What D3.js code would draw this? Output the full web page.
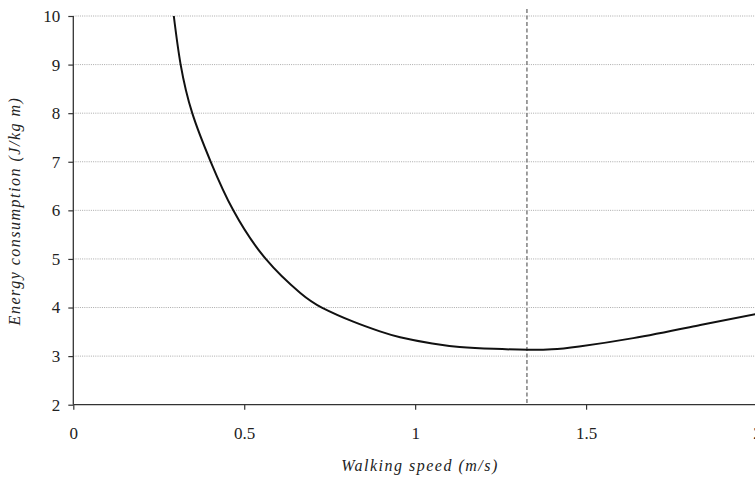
<!DOCTYPE html>
<html><head><meta charset="utf-8">
<script src="https://cdn.jsdelivr.net/npm/d3@7"></script>
<style>body{margin:0;background:#fff}svg{display:block}
text{font-family:"Liberation Serif","Times New Roman",Times,serif}</style>
</head><body>
<svg id="c" width="755" height="479"></svg>
<script>
const speed =  [0.294,0.314,0.348,0.402,0.468,0.563,0.664,0.727,0.819,0.897,0.956,1.05,1.13,1.23,1.33,1.40,1.48,1.638,1.834,2.0];
const energy = [10.0, 9.0,  8.0,  7.0,  6.0,  5.0,  4.30, 4.0,  3.71, 3.51, 3.39, 3.26,3.19,3.15,3.13,3.14,3.20,3.37, 3.64, 3.87];
const optimalSpeed = 1.327;
const xTicks = [0, 0.5, 1, 1.5, 2];
const yTicks = [2,3,4,5,6,7,8,9,10];
const xLabel = "Walking speed (m/s)";
const yLabel = "Energy consumption (J/kg m)";

const svg = d3.select("#c");
const x = d3.scaleLinear().domain([0,2]).range([73.3,757]);
const y = d3.scaleLinear().domain([2,10]).range([404.7,16]);
const font = "Liberation Serif";

// gridlines
svg.append("g").selectAll("line").data(yTicks.filter(d=>d>2)).join("line")
  .attr("x1",x(0)).attr("x2",755).attr("y1",d=>y(d)).attr("y2",d=>y(d))
  .attr("stroke","#aaa").attr("stroke-width",1).attr("stroke-dasharray","1,1.2");

// dashed vertical line
svg.append("line").attr("x1",x(optimalSpeed)).attr("x2",x(optimalSpeed))
  .attr("y1",9).attr("y2",y(2))
  .attr("stroke","#777").attr("stroke-width",1.4).attr("stroke-dasharray","4,2.5");

// axes
const xAxis = svg.append("g").attr("transform",`translate(0,${y(2)})`)
  .call(d3.axisBottom(x).tickValues(xTicks).tickFormat(d3.format("")).tickSize(5).tickPadding(17));
const yAxis = svg.append("g").attr("transform",`translate(${x(0)},0)`)
  .call(d3.axisLeft(y).tickValues(yTicks).tickFormat(d3.format("")).tickSize(5).tickPadding(8));
[xAxis,yAxis].forEach(g=>{
  g.attr("font-family",null);
  g.select(".domain").attr("stroke","#333").attr("stroke-width",1.3);
  g.selectAll(".tick line").attr("stroke","#333").attr("stroke-width",1.2);
  g.selectAll(".tick text").style("font-family",font).attr("font-size",17).attr("fill","#222");
});
yAxis.select(".domain").attr("d",`M-0,${y(10)}V${y(2)}`);
xAxis.select(".domain").attr("d",`M${x(0)},0H757`);

// curve
const line = d3.line().x((d,i)=>x(speed[i])).y((d,i)=>y(energy[i])).curve(d3.curveNatural);
svg.append("path").attr("d",line(energy)).attr("fill","none")
  .attr("stroke","#111").attr("stroke-width",2);

// axis titles
svg.append("text").attr("x",420).attr("y",471).attr("text-anchor","middle")
  .style("font-family",font).attr("font-style","italic").attr("font-size",16)
  .attr("letter-spacing","1.5px").attr("fill","#222").text(xLabel);
svg.append("text").attr("transform","translate(20,211) rotate(-90)").attr("text-anchor","middle")
  .style("font-family",font).attr("font-style","italic").attr("font-size",16)
  .attr("letter-spacing","1.5px").attr("fill","#222").text(yLabel);
</script>
</body></html>
